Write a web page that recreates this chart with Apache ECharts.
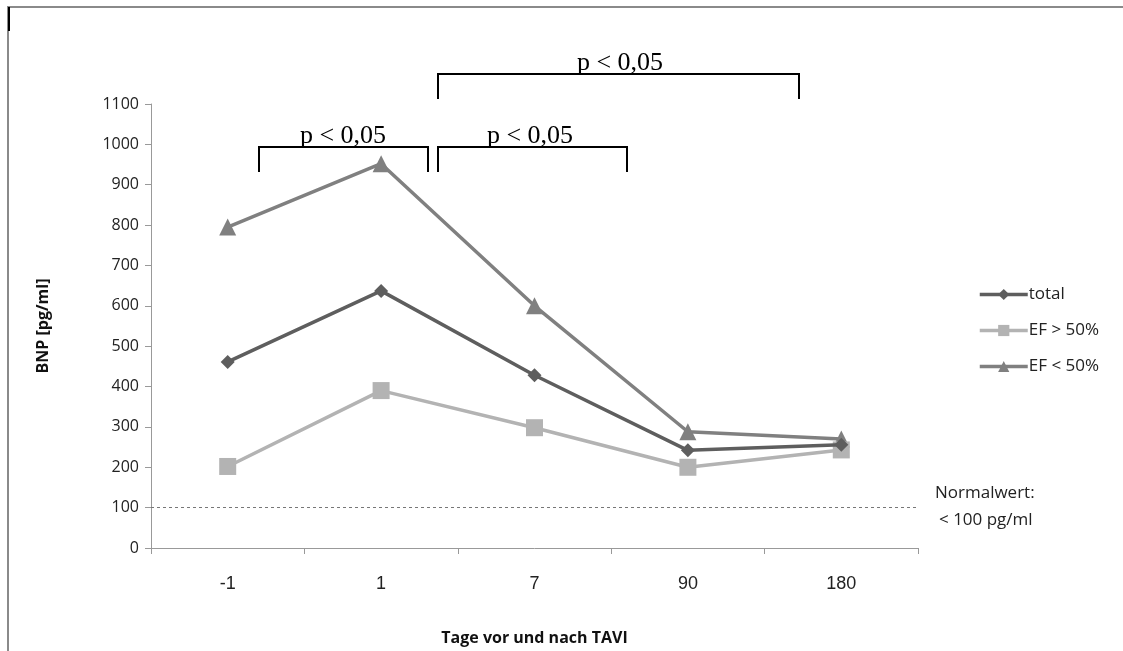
<!DOCTYPE html>
<html><head><meta charset="utf-8">
<script src="https://cdn.jsdelivr.net/npm/echarts@6/dist/echarts.min.js"></script>
<style>html,body{margin:0;padding:0;background:#fff}#c{width:1123px;height:651px}</style>
</head><body><div id="c"></div>
<script>
const categories = ['-1', '1', '7', '90', '180'];
const totalValues = [461, 637, 428, 242, 256];
const efAbove50 = [202, 390, 298, 200, 243];
const efBelow50 = [795, 952, 600, 288, 270];
const seriesNames = ['total', 'EF > 50%', 'EF < 50%'];
const normalValue = 100;
const yTicks = {min: 0, max: 1100, interval: 100};

const chart = echarts.init(document.getElementById('c'));
const font = 'Open Sans';
function bracket(x1, x2, yTop, yBot) {
  return {type: 'polyline', shape: {points: [[x1, yBot], [x1, yTop], [x2, yTop], [x2, yBot]]},
    style: {stroke: '#000', lineWidth: 2, fill: null}, z: 10};
}
function ptext(x, y) {
  return {type: 'text', x: x, y: y, style: {text: 'p < 0,05', font: '26px "Liberation Serif"', fill: '#000', textAlign: 'center', textVerticalAlign: 'bottom'}, z: 11};
}
chart.setOption({
  animation: false,
  grid: {left: 151, right: 205, top: 104, bottom: 101},
  legend: {
    orient: 'vertical', left: 973, top: 281, itemGap: 19, itemWidth: 48, itemHeight: 14,
    textStyle: {fontFamily: font, fontSize: 17, color: '#222', padding: [0, 0, 0, -4]},
    lineStyle: {width: 3.5},
    data: seriesNames
  },
  xAxis: {
    type: 'category', data: categories, boundaryGap: true,
    name: 'Tage vor und nach TAVI', nameLocation: 'middle', nameGap: 82,
    nameTextStyle: {fontFamily: font, fontSize: 16, fontWeight: 'bold', color: '#111'},
    axisLine: {lineStyle: {color: '#999', width: 1}},
    axisTick: {show: true, length: 6, lineStyle: {color: '#999'}},
    axisLabel: {fontFamily: 'Liberation Sans Narrow, Liberation Sans', fontSize: 18, color: '#222', margin: 27},
    splitLine: {show: false}
  },
  yAxis: {
    type: 'value', min: yTicks.min, max: yTicks.max, interval: yTicks.interval,
    name: 'BNP [pg/ml]', nameLocation: 'middle', nameGap: 100, nameRotate: 90,
    nameTextStyle: {fontFamily: font, fontSize: 16, fontWeight: 'bold', color: '#111'},
    axisLine: {show: true, lineStyle: {color: '#999', width: 1}},
    axisTick: {show: true, length: 6, lineStyle: {color: '#999'}},
    axisLabel: {fontFamily: font, fontSize: 16, color: '#222', margin: 12, formatter: v => String(v)},
    splitLine: {show: false}
  },
  series: [
    {name: seriesNames[0], type: 'line', data: totalValues, symbol: 'diamond', symbolSize: 14,
      lineStyle: {color: '#5e5e5e', width: 3.5}, itemStyle: {color: '#5e5e5e'}, z: 4,
      markLine: {silent: true, symbol: 'none', label: {show: false},
        lineStyle: {color: '#777', type: [3, 3], width: 1.2},
        data: [{yAxis: normalValue}]}},
    {name: seriesNames[1], type: 'line', data: efAbove50, symbol: 'rect', symbolSize: 17,
      lineStyle: {color: '#b3b3b3', width: 3.5}, itemStyle: {color: '#b3b3b3'}, z: 3},
    {name: seriesNames[2], type: 'line', data: efBelow50, symbol: 'triangle', symbolSize: 17,
      lineStyle: {color: '#808080', width: 3.5}, itemStyle: {color: '#808080'}, z: 2}
  ],
  graphic: [
    {type: 'rect', shape: {x: 8, y: 7, width: 1200, height: 700}, style: {stroke: '#8a8a8a', lineWidth: 2, fill: null}, z: 0},
    {type: 'line', shape: {x1: 9, y1: 7, x2: 9, y2: 31}, style: {stroke: '#000', lineWidth: 2}, z: 1},
    bracket(259, 428, 147, 172),
    bracket(438, 627, 147, 172),
    bracket(438, 799, 74, 99),
    ptext(343, 149),
    ptext(530, 149),
    ptext(620, 76),
    {type: 'text', x: 935, y: 485, style: {text: 'Normalwert:', font: '17px "Open Sans"', fill: '#222'}, z: 10},
    {type: 'text', x: 939, y: 512, style: {text: '< 100 pg/ml', font: '17px "Open Sans"', fill: '#222'}, z: 10}
  ]
});
</script></body></html>
